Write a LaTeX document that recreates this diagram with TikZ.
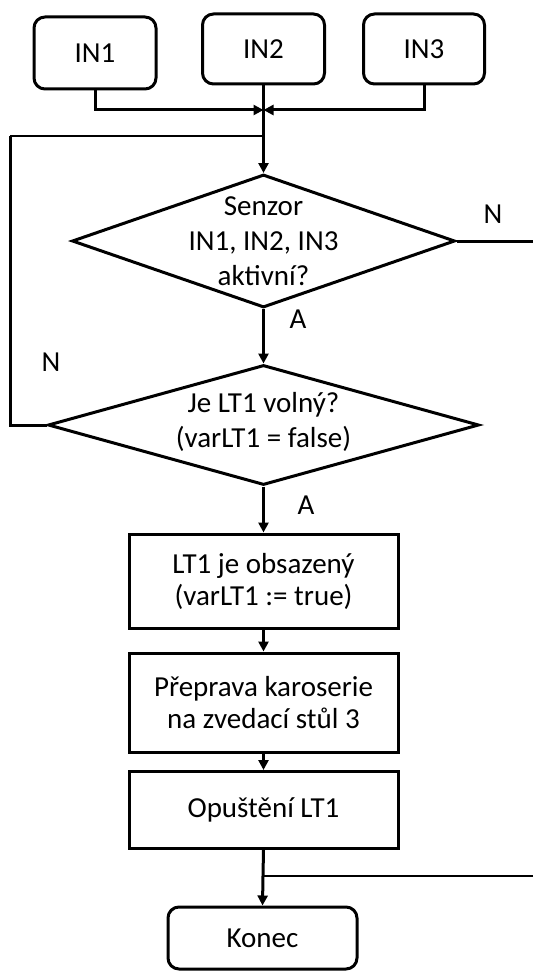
\documentclass[tikz,border=0pt]{standalone}
\usepackage{fontspec}
\setmainfont{Carlito}
\usetikzlibrary{arrows.meta,shapes.geometric}
\begin{document}
\begin{tikzpicture}[x=1pt,y=-1pt,
  every node/.style={font=\fontsize{29}{32}\selectfont, align=center},
  wide/.style={font=\fontsize{29}{35}\selectfont},
  inbox/.style={draw, line width=3pt, rounded corners=11pt, inner sep=0pt},
  procbox/.style={draw, line width=3pt, inner sep=0pt, minimum width=269pt},
  decision/.style={draw, line width=3pt, diamond, inner sep=0pt},
  flow/.style={line width=3pt, -{Triangle[length=10pt,width=10pt]}},
  thinline/.style={line width=2.2pt},
  lbl/.style={inner sep=0pt}]
\useasboundingbox (0,0) rectangle (533,971);

% start inputs
\node[inbox, minimum width=122pt, minimum height=72pt] (in1) at (95,53) {};
\node at (in1) {IN1};
\node[inbox, minimum width=122pt, minimum height=70pt] (in2) at (263.5,49) {};
\node at (in2) {IN2};
\node[inbox, minimum width=121pt, minimum height=70pt] (in3) at (424,49) {};
\node at (in3) {IN3};

\coordinate (join) at (263.5,110);
\coordinate (loop) at (263.5,136);

% decisions
\node[decision, minimum width=383pt, minimum height=133pt] (d1) at (263.5,241) {};
\node[wide] at (d1) {Senzor\\IN1, IN2, IN3\\aktivní?};
\node[decision, minimum width=431pt, minimum height=120pt] (d2) at (263.5,425) {};
\node[wide] at ([yshift=3pt]d2.center) {Je LT1 volný?\\(varLT1 = false)};

% process steps
\node[procbox, minimum height=94pt] (b1) at (263.5,581) {};
\node at (b1) {LT1 je obsazený\\(varLT1 := true)};
\node[procbox, minimum height=99pt] (b2) at (263.5,702.5) {};
\node at (b2) {Přeprava karoserie\\na zvedací stůl 3};
\node[procbox, minimum height=77pt] (b3) at (263.5,810) {};
\node at (b3) {Opuštění LT1};
\node[inbox, minimum width=189pt, minimum height=62pt] (end) at (262.5,938) {};
\node at (end) {Konec};

% merging of the inputs
\draw[flow] (in1.south) |- (join);
\draw[flow] (in3.south) |- (join);
\draw[line width=3pt] (in2.south) -- (join);
\draw[flow] (join) -- (d1.north);

% branches of the first decision
\coordinate (d1out) at (533,241);
\draw[line width=3pt] (d1.east) -- (d1out);
\node[lbl] at (493,214) {N};
\draw[flow] (d1.south) -- (d2.north);
\node[lbl] at (298,319) {A};

% return loop of the second decision
\coordinate (lpl) at (10,425);
\coordinate (lpt) at (10,136);
\draw[line width=3pt] (d2.west) -- (lpl) -- (lpt);
\draw[thinline] (lpt) -- (loop);
\node[lbl] at (51,362) {N};
\draw[flow] (d2.south) -- (b1.north);
\node[lbl] at (306,505) {A};

% sequence
\draw[flow] (b1.south) -- (b2.north);
\draw[flow] (b2.south) -- (b3.north);
\coordinate (merge) at (263,876);
\coordinate (mergein) at (533,876);
\draw[line width=3pt] (b3.south) -- (merge);
\draw[thinline] (mergein) -- (merge);
\draw[flow] (merge) -- (end.north);
\end{tikzpicture}
\end{document}
